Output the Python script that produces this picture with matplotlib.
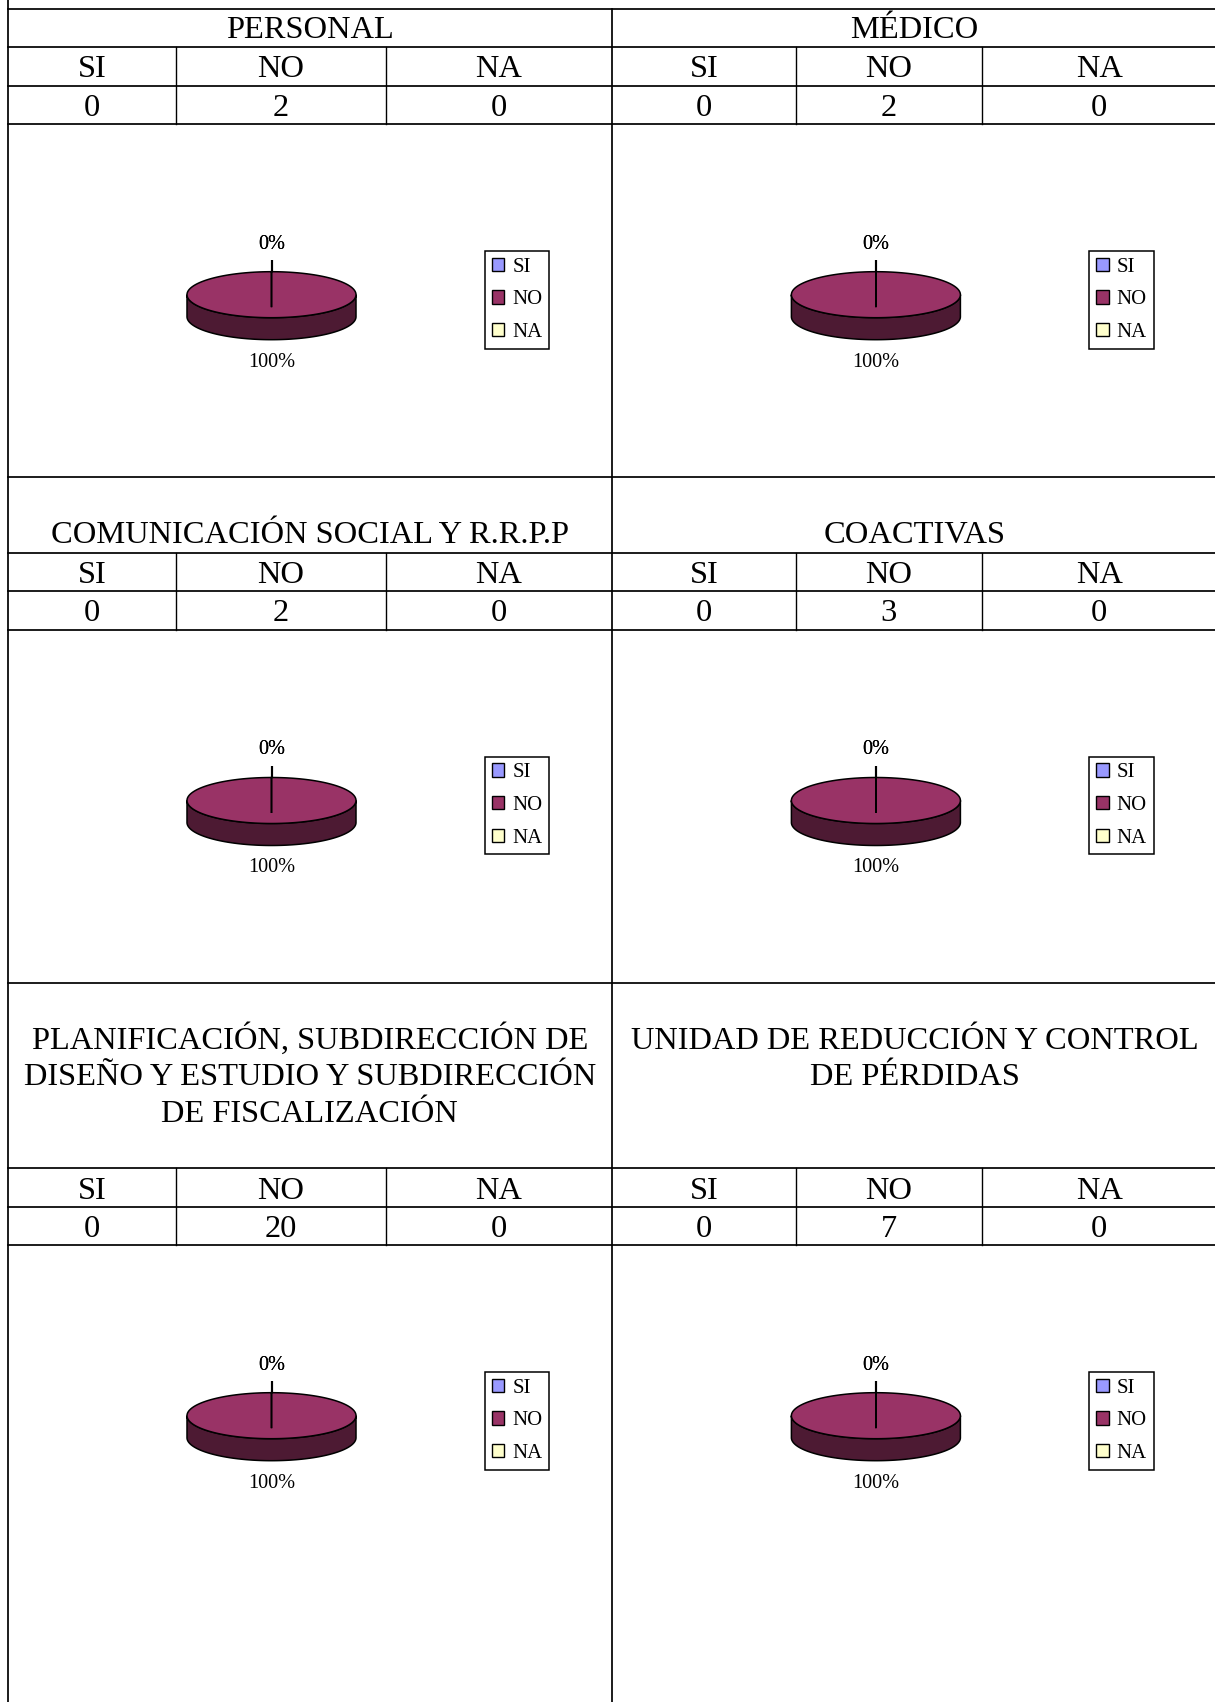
import numpy as np
import matplotlib.pyplot as plt
from matplotlib.patches import Polygon, Patch
from matplotlib.colors import to_rgb

plt.rcParams["font.family"] = ["Liberation Serif", "DejaVu Serif"]

answers = ["SI", "NO", "NA"]
titles = [
    "PERSONAL",
    "MÉDICO",
    "\nCOMUNICACIÓN SOCIAL Y R.R.P.P",
    "\nCOACTIVAS",
    "\nPLANIFICACIÓN, SUBDIRECCIÓN DE\nDISEÑO Y ESTUDIO Y SUBDIRECCIÓN\nDE FISCALIZACIÓN",
    "\nUNIDAD DE REDUCCIÓN Y CONTROL\nDE PÉRDIDAS",
]
si_counts = [0, 0, 0, 0, 0, 0]
no_counts = [2, 2, 2, 3, 20, 7]
na_counts = [0, 0, 0, 0, 0, 0]
slice_colors = ["#9999FF", "#993366", "#FFFFCC"]

# page layout in pixels (y grows downwards)
W, H = 1215, 1702
col_edges = [7.6, 612, 1217]
sub_dividers = [[176, 385.5], [796, 981.6]]
title_tops = [8.7, 476.7, 982.6]
header_tops = [46.7, 552.7, 1168.3]
value_tops = [85.8, 590.7, 1206.5]
chart_tops = [124.0, 629.8, 1245.0]

TITLE_PX = 32.5
LABEL_PX = 20.3
LEGEND_PX = 20.8


def px2pt(px):
    return px * 0.72


def ctext(ax, x, yc, s, size_px):
    # centre caps/digits vertically on yc
    ax.text(x, yc + 0.335 * size_px, s, ha="center", va="baseline",
            fontsize=px2pt(size_px), color="black")


def shade(c):
    return tuple(v * 0.5 for v in to_rgb(c))


def draw_pie(ax, cx, cy, counts):
    R, r, depth, shift = 84.5, 23.0, 22.0, 12.5
    total = float(sum(counts))
    fracs = [c / total for c in counts]
    starts = 90 - 360 * np.cumsum([0] + fracs[:-1])
    ends = starts - 360 * np.array(fracs)

    def rim(t):
        t = np.radians(t)
        return cx + R * np.cos(t), cy - r * np.sin(t)

    # visible side wall
    for s, e, col in zip(starts, ends, slice_colors):
        a, b = max(e, -180), min(s, 0)
        if b > a:
            xs, ys = rim(np.linspace(a, b, 120))
            pts = np.column_stack([np.r_[xs, xs[::-1]],
                                   np.r_[ys, ys[::-1] + depth]])
            ax.add_patch(Polygon(pts, closed=True, fc=shade(col),
                                 ec="black", lw=1.1))
    # top face
    for s, e, col in zip(starts, ends, slice_colors):
        if s > e:
            xs, ys = rim(np.linspace(s, e, 240))
            pts = [(cx, cy + shift)] + list(zip(xs, ys)) + [(cx, cy + shift)]
            ax.add_patch(Polygon(pts, closed=True, fc=col, ec="black",
                                 lw=1.1))
    # data labels
    for s, e, f in zip(starts, ends, fracs):
        m = np.radians((s + e) / 2)
        sm, cm = np.sin(m), np.cos(m)
        if sm >= 0:
            ly = cy - (r + 30) * sm
        else:
            ly = cy - (r + 20) * sm + depth
        lx = cx + (R + 20) * cm
        if f == 0:
            x0, y0 = cx + R * cm, cy - r * sm
            ax.plot([x0, x0 + 12 * cm], [y0, y0 - 12 * sm], color="black",
                    lw=1.5, solid_capstyle="butt")
        ctext(ax, lx, ly, f"{round(f * 100)}%", LABEL_PX)


def main():
    fig = plt.figure(figsize=(W / 100, H / 100), dpi=100)
    ax = fig.add_axes([0, 0, 1, 1])
    ax.set_xlim(0, W)
    ax.set_ylim(H, 0)
    ax.axis("off")

    lw_main, lw_sub = 1.25, 1.0
    # outer and middle verticals
    ax.plot([col_edges[0]] * 2, [0, H], color="black", lw=lw_main)
    ax.plot([col_edges[1]] * 2, [title_tops[0], H], color="black", lw=lw_main)
    # horizontal rules
    for ys in (title_tops, header_tops, value_tops, chart_tops):
        for y in ys:
            ax.plot([col_edges[0], W], [y, y], color="black", lw=lw_main)
    # sub column dividers
    for c in range(2):
        for x in sub_dividers[c]:
            for hy, cy in zip(header_tops, chart_tops):
                ax.plot([x, x], [hy, cy], color="black", lw=lw_sub)

    for i in range(6):
        row, c = divmod(i, 2)
        left, right = col_edges[c], col_edges[c + 1]
        mid = (left + right) / 2
        counts = [si_counts[i], no_counts[i], na_counts[i]]

        for k, line in enumerate(titles[i].split("\n")):
            if line:
                ctext(ax, mid, title_tops[row] + 18.8 + 36.5 * k, line,
                      TITLE_PX)

        bounds = [left] + sub_dividers[c] + [right]
        for j in range(3):
            xc = (bounds[j] + bounds[j + 1]) / 2
            ctext(ax, xc, header_tops[row] + 19.5, answers[j], TITLE_PX)
            ctext(ax, xc, value_tops[row] + 19.5, str(counts[j]), TITLE_PX)

        top = chart_tops[row]
        draw_pie(ax, left + 263.9, top + 170.7, counts)

        handles = [Patch(facecolor=col, edgecolor="black", linewidth=1.0)
                   for col in slice_colors]
        leg = fig.legend(handles, answers, loc="upper left",
                         bbox_to_anchor=(left + 477.4, top + 126.9),
                         bbox_transform=ax.transData, borderaxespad=0,
                         fontsize=px2pt(LEGEND_PX), frameon=True,
                         fancybox=False, shadow=False,
                         handlelength=0.6, handleheight=0.6,
                         handletextpad=0.4, borderpad=0.32,
                         labelspacing=0.66)
        frame = leg.get_frame()
        frame.set_edgecolor("black")
        frame.set_linewidth(1.1)
        frame.set_alpha(1)

    fig.savefig("out.png", dpi=100, facecolor="white")


if __name__ == "__main__":
    main()
